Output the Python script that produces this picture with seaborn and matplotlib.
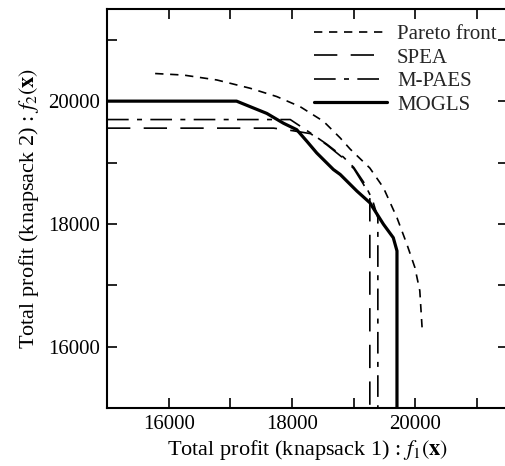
import seaborn as sns
import matplotlib.pyplot as plt
from matplotlib.ticker import MultipleLocator

# Pareto front (reference)
pareto_x = [15780, 16240, 16780, 17320, 17750, 18130, 18510, 18780, 18940, 19260,
            19480, 19700, 19860, 19990, 20070, 20110]
pareto_y = [20450, 20425, 20345, 20210, 20075, 19910, 19670, 19400, 19220, 18910,
            18590, 18100, 17670, 17290, 16910, 16260]

# SPEA
spea_x = [15000, 17700, 18000, 18300, 18560, 18830, 19000, 19160, 19260, 19260]
spea_y = [19560, 19560, 19520, 19470, 19290, 19070, 18900, 18640, 18420, 15000]

# M-PAES
mpaes_x = [15000, 17970, 18180, 18300, 18560, 18830, 19000, 19160, 19300, 19390, 19390]
mpaes_y = [19700, 19700, 19560, 19480, 19300, 19090, 18920, 18680, 18400, 18100, 15000]

# MOGLS
mogls_x = [15000, 17100, 17320, 17590, 17860, 18075, 18240, 18400, 18670, 18780,
           19050, 19260, 19480, 19640, 19700, 19700]
mogls_y = [20000, 20000, 19910, 19800, 19640, 19535, 19345, 19155, 18885, 18805,
           18535, 18345, 17995, 17775, 17560, 15000]

sns.set_style("ticks")
plt.rcParams['font.family'] = ['Liberation Serif', 'DejaVu Serif']
plt.rcParams['mathtext.fontset'] = 'stix'

fig = plt.figure(figsize=(5.06, 4.66), dpi=100)
ax = fig.add_axes([0.2115, 0.1245, 0.7925, 0.856])

sns.lineplot(x=pareto_x, y=pareto_y, sort=False, estimator=None, ax=ax, color='black',
             linewidth=1.2, linestyle=(0, (5, 4)), label='Pareto front')
sns.lineplot(x=spea_x, y=spea_y, sort=False, estimator=None, ax=ax, color='black',
             linewidth=1.2, linestyle=(0, (14, 8)), label='SPEA')
sns.lineplot(x=mpaes_x, y=mpaes_y, sort=False, estimator=None, ax=ax, color='black',
             linewidth=1.2, linestyle=(0, (13, 5, 3, 5)), label='M-PAES')
sns.lineplot(x=mogls_x, y=mogls_y, sort=False, estimator=None, ax=ax, color='black',
             linewidth=2.3, linestyle='-', label='MOGLS')

ax.set_xlim(15000, 21500)
ax.set_ylim(15000, 21500)
for a in (ax.xaxis, ax.yaxis):
    a.set_major_locator(MultipleLocator(2000))
    a.set_minor_locator(MultipleLocator(1000))
ax.tick_params(which='both', direction='in', top=True, right=True, length=7, width=1.2,
               labelsize=15, pad=5, color='black', labelcolor='black')
for s in ax.spines.values():
    s.set_linewidth(1.5)
    s.set_color('black')

ax.set_xlabel(r'Total profit (knapsack 1) : $f_1(\mathbf{x})$', fontsize=16, color='black', labelpad=3)
ax.set_ylabel(r'Total profit (knapsack 2) : $f_2(\mathbf{x})$', fontsize=16, color='black', labelpad=5)

ax.legend(loc='upper left', bbox_to_anchor=(0.479, 0.998), frameon=False, fontsize=15,
          handlelength=3.5, handletextpad=0.5, labelspacing=0.19, borderaxespad=0.3)

fig.savefig('out.png', dpi=100)
